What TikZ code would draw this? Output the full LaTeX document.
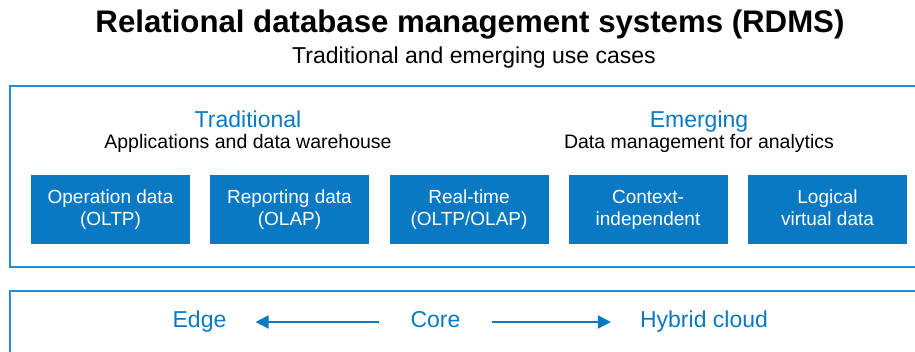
\documentclass[tikz,border=0pt]{standalone}
\usepackage{fontspec}
\setmainfont{Liberation Sans}
\usetikzlibrary{arrows.meta}

\definecolor{dellblue}{HTML}{0A79C4}
\definecolor{framblue}{HTML}{2A8AD2}

\newcommand\boxstrut{\rule[-4pt]{0pt}{19.5pt}}

\tikzset{
	usecase/.style = {fill = dellblue, text = white, minimum width = 159pt, minimum height = 69pt, align = center, inner sep = 0pt, font = \fontsize{19}{22}\selectfont, execute at begin node = \boxstrut, execute at end node = \boxstrut},
	bluehead/.style = {text = dellblue, anchor = base, inner sep = 0pt, font = \fontsize{23}{26}\selectfont},
	subhead/.style = {anchor = base, inner sep = 0pt, font = \fontsize{19.5}{22}\selectfont},
	flow/.style = {draw = dellblue, line width = 2pt, -{Triangle[length=13pt,width=13pt]}, shorten < = 31pt, shorten > = 29pt}
}

\begin{document}
\begin{tikzpicture}[x=1pt,y=-1pt]
	\clip (0,0) rectangle (915,352);
	\begin{scope} [fill opacity = 1]
	
	\fill[white] (0,0) rectangle (915,352);
	
	\node[anchor = base, inner sep = 0pt, font = \fontsize{31.2}{34}\selectfont\bfseries] (title) at (470,33) {Relational database management systems (RDMS)};
	\node[anchor = base, inner sep = 0pt, font = \fontsize{23}{26}\selectfont] (subtitle) at (474,64) {Traditional and emerging use cases};
	
	\draw[draw = framblue, line width = 2pt] (10,86) rectangle (930,267);
	\draw[draw = framblue, line width = 2pt] (10,291) rectangle (930,370);
	
	\node[bluehead] (trad) at (248,128) {Traditional};
	\node[subhead] (tradsub) at (248,149) {Applications and data warehouse};
	\node[bluehead] (emerg) at (699,128) {Emerging};
	\node[subhead] (emergsub) at (699,149) {Data management for analytics};
	
	\node[usecase] (oltp) at (110.5,209.5) {Operation data\\(OLTP)};
	\node[usecase] (olap) at (289.5,209.5) {Reporting data\\(OLAP)};
	\node[usecase] (realtime) at (469,209.5) {Real-time\\(OLTP/OLAP)};
	\node[usecase] (context) at (648,209.5) {Context-\\independent};
	\node[usecase] (logical) at (827.5,209.5) {Logical\\virtual data};
	
	\node[bluehead] (edge) at (199.5,328) {Edge};
	\node[bluehead] (core) at (435.5,328) {Core};
	\node[bluehead] (hybrid) at (704,328) {Hybrid cloud};
	
	\draw[flow] (core.west |- 0,322) -- (edge.east |- 0,322);
	\draw[flow] (core.east |- 0,322) -- (hybrid.west |- 0,322);
	\end{scope}
\end{tikzpicture}
\end{document}
